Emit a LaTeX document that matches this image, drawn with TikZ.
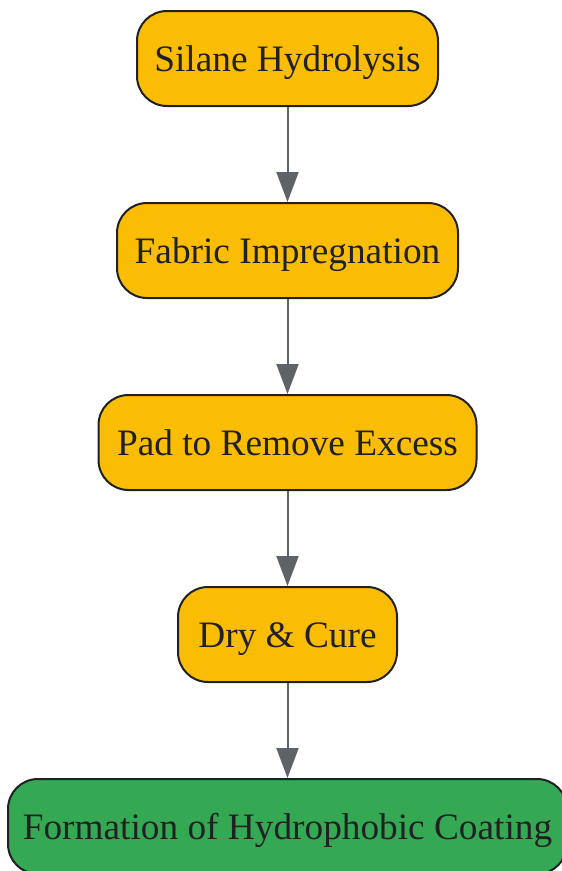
\documentclass[tikz,border=0pt]{standalone}
\usepackage{fontspec}
\setmainfont{Liberation Serif}
\usetikzlibrary{arrows.meta}
\definecolor{yel}{HTML}{FBBC04}
\definecolor{grn}{HTML}{34A853}
\definecolor{edge}{HTML}{202124}
\definecolor{arr}{HTML}{5F6368}
\tikzset{
  stepbox/.style={draw=edge, line width=2pt, rounded corners=30pt, fill=yel, text=edge,
    minimum height=95pt, inner sep=0pt, text height=30pt, text depth=4pt,
    font=\fontsize{37.3}{40}\selectfont},
  endbox/.style={stepbox, fill=grn},
  conn/.style={draw=arr, line width=2pt, -{Triangle[length=30pt,width=22pt]}, shorten >=0pt}
}
\begin{document}
\begin{tikzpicture}[x=1pt,y=1pt]
\useasboundingbox (0,0) rectangle (562,-871);
\node[stepbox, minimum width=301pt] (a) at (287.5,-58.5) {Silane Hydrolysis};
\node[stepbox, minimum width=341pt] (b) at (287.5,-250.5) {Fabric Impregnation};
\node[stepbox, minimum width=378pt] (c) at (287.5,-442.5) {Pad to Remove Excess};
\node[stepbox, minimum width=219pt] (d) at (287.5,-634.5) {Dry \& Cure};
\node[endbox, minimum width=559pt] (e) at (287.5,-826.5) {Formation of Hydrophobic Coating};
\draw[conn] (a) -- (b);
\draw[conn] (b) -- (c);
\draw[conn] (c) -- (d);
\draw[conn] (d) -- (e);
\end{tikzpicture}
\end{document}
